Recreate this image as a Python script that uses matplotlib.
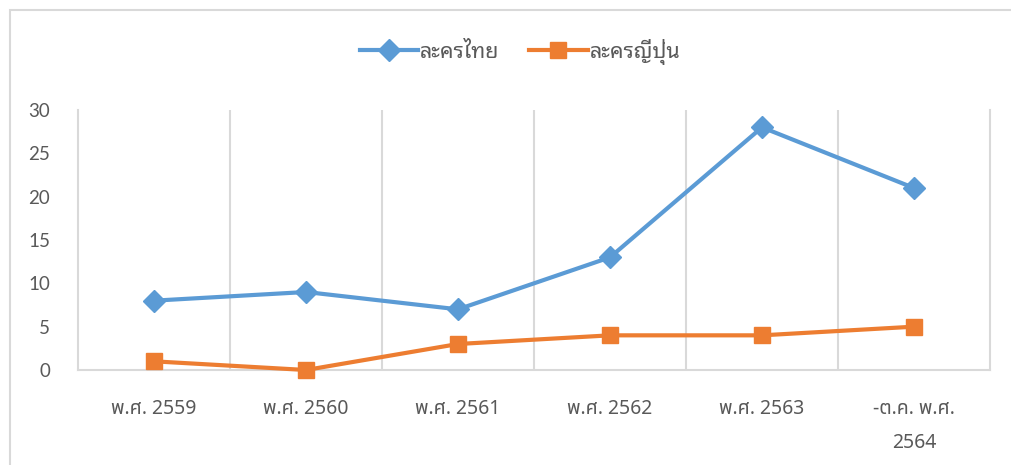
import matplotlib
matplotlib.use("Agg")
import matplotlib.pyplot as plt
from matplotlib.patches import Rectangle

# data
years = ["พ.ศ. 2559", "พ.ศ. 2560", "พ.ศ. 2561", "พ.ศ. 2562", "พ.ศ. 2563", "-ต.ค. พ.ศ.\n2564"]
thai_drama = [8, 9, 7, 13, 28, 21]
japanese_drama = [1, 0, 3, 4, 4, 5]
series_names = ["ละครไทย", "ละครญี่ปุ่น"]

grid_color = "#d9d9d9"
text_color = "#595959"

fig = plt.figure(figsize=(10.11, 4.65), dpi=100)
ax = fig.add_axes([78 / 1011, 95 / 465, 912 / 1011, 260 / 465])

x = list(range(len(years)))
ax.plot(x, thai_drama, color="#5B9BD5", lw=3.0, marker="D", ms=11,
        label=series_names[0], solid_joinstyle="round", clip_on=False, zorder=3)
ax.plot(x, japanese_drama, color="#ED7D31", lw=3.0, marker="s", ms=11,
        label=series_names[1], solid_joinstyle="round", clip_on=False, zorder=3)

ax.set_xlim(-0.5, len(years) - 0.5)
ax.set_ylim(0, 30)
ax.set_yticks(range(0, 31, 5))

# category borders as vertical gridlines
for b in range(1, len(years)):
    ax.axvline(b - 0.5, color=grid_color, lw=1.5, zorder=0)

ax.set_xticks(x)
ax.set_xticklabels(years, family=["Noto Sans Thai", "DejaVu Sans"], fontsize=14,
                   fontweight="light", color=text_color, linespacing=1.9, va="top")
for lab in ax.get_yticklabels():
    lab.set_family("Lato")
    lab.set_fontsize(13.5)
    lab.set_color(text_color)
ax.tick_params(axis="both", length=0)
ax.tick_params(axis="x", pad=21)
ax.tick_params(axis="y", pad=20)

for side in ["left", "right", "bottom"]:
    ax.spines[side].set_color(grid_color)
    ax.spines[side].set_linewidth(1.5)
ax.spines["top"].set_visible(False)

leg = fig.legend(loc="center", bbox_to_anchor=(520 / 1011, 1 - 52 / 465), ncol=2,
                 frameon=False, handlelength=2.7, columnspacing=1.4, handletextpad=0.1,
                 prop={"family": "Noto Sans Thai Looped", "size": 15.5})
for t in leg.get_texts():
    t.set_color(text_color)

# chart area border
fig.patches.append(Rectangle((10 / 1011, -0.1), 1.2, 1 - 10 / 465 + 0.1,
                             transform=fig.transFigure, fill=False,
                             edgecolor=grid_color, lw=1.5))

fig.savefig("out.png", dpi=100)
